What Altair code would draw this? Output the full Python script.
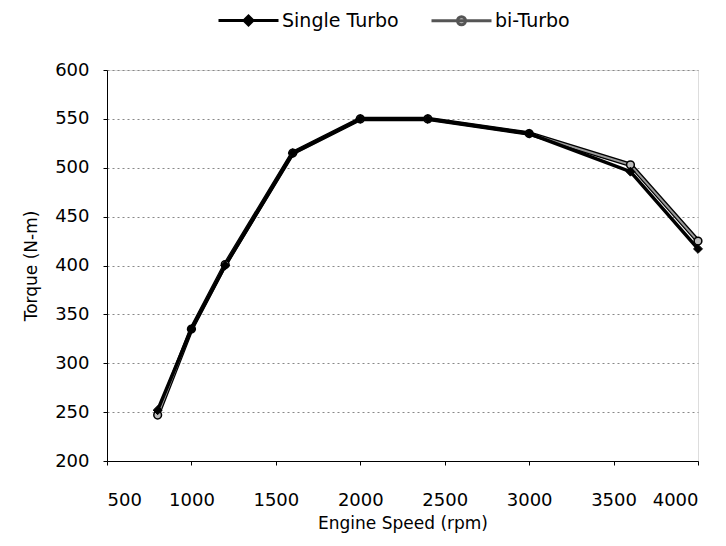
import altair as alt
import pandas as pd

rpm = [800, 1000, 1200, 1600, 2000, 2400, 3000, 3600, 4000]
single_turbo = [252, 335, 400, 515, 550, 550, 535, 496, 417]
bi_turbo = [247, 335, 401, 515, 550, 550, 535, 503, 425]
series = ["Single Turbo", "bi-Turbo"]
x_ticks = [500, 1000, 1500, 2000, 2500, 3000, 3500, 4000]
y_ticks = [200, 250, 300, 350, 400, 450, 500, 550, 600]

rows = []
for r, s, b in zip(rpm, single_turbo, bi_turbo):
    rows.append({"rpm": r, "torque": b, "series": series[1]})
    rows.append({"rpm": r, "torque": s, "series": series[0]})
df = pd.DataFrame(rows)

FONT = "DejaVu Sans"

x = alt.X("rpm:Q", scale=alt.Scale(domain=[500, 4000], nice=False),
          axis=alt.Axis(values=x_ticks, format="d", title="Engine Speed (rpm)", grid=False,
                        labelFontSize=18, titleFontSize=17, labelPadding=26,
                        titlePadding=6, tickSize=4, domainColor="black",
                        tickColor="black", labelColor="black", titleColor="black",
                        labelFont=FONT, titleFont=FONT, titleFontWeight="normal"))
y = alt.Y("torque:Q", scale=alt.Scale(domain=[200, 600], nice=False),
          axis=alt.Axis(values=y_ticks, title="Torque (N-m)", grid=True,
                        gridColor="#888", gridDash=[2, 3], gridWidth=1,
                        labelFontSize=18, titleFontSize=17, labelPadding=14,
                        titlePadding=14, tickSize=4, domainColor="black",
                        tickColor="black", labelColor="black", titleColor="black",
                        labelFont=FONT, titleFont=FONT, titleFontWeight="normal"))

shape_paths = [
    "M-3,0H-0.45L0,-0.45L0.45,0H3M0.45,0L0,0.45L-0.45,0Z",
    "M-3,0H-0.4A0.4,0.4 0 1 1 0.4,0H3M0.4,0A0.4,0.4 0 1 1 -0.4,0Z",
]

base = alt.Chart(df)
bi = base.transform_filter(alt.datum.series == "bi-Turbo")
single = base.transform_filter(alt.datum.series == "Single Turbo")

bi_outline = bi.mark_line(color="black", strokeWidth=4.5).encode(x=x, y=y)
bi_inner = bi.mark_line(color="#9a9a9a", strokeWidth=2).encode(x=x, y=y)
single_line = single.mark_line(color="black", strokeWidth=3.5).encode(x=x, y=y)

bi_pts = bi.mark_point(shape="circle", filled=True, size=60, fill="#bdbdbd",
                       stroke="black", strokeWidth=1.5, opacity=1).encode(x=x, y=y)
single_pts = single.mark_point(shape="diamond", filled=True, size=80, fill="black",
                               stroke="black", strokeWidth=1, opacity=1).encode(x=x, y=y)

leg = alt.Legend(title=None, orient="none", direction="horizontal",
                 legendX=130, legendY=-61, labelFontSize=19,
                 labelFont=FONT, labelColor="black",
                 symbolSize=400, symbolStrokeWidth=3,
                 columnPadding=26, labelOffset=22)

legend_layer = base.mark_point(size=0, filled=False, strokeWidth=3, opacity=1).encode(
    x=x, y=y,
    color=alt.Color("series:N",
                    scale=alt.Scale(domain=series, range=["black", "#555555"]),
                    legend=leg),
    fill=alt.Fill("series:N",
                  scale=alt.Scale(domain=series, range=["black", "#c8c8c8"]),
                  legend=leg),
    shape=alt.Shape("series:N", scale=alt.Scale(domain=series, range=shape_paths),
                    legend=leg),
)

chart = alt.layer(bi_outline, bi_inner, single_line, bi_pts, single_pts, legend_layer).properties(
    width=591, height=391,
    padding={"left": 99, "top": 62, "right": 20, "bottom": 75},
    autosize=alt.AutoSizeParams(type="none"),
).configure_view(stroke="black", strokeWidth=1.5, fill="white"
).configure(background="white")

chart.save("out.html", embed_options={"renderer": "svg", "actions": False})
